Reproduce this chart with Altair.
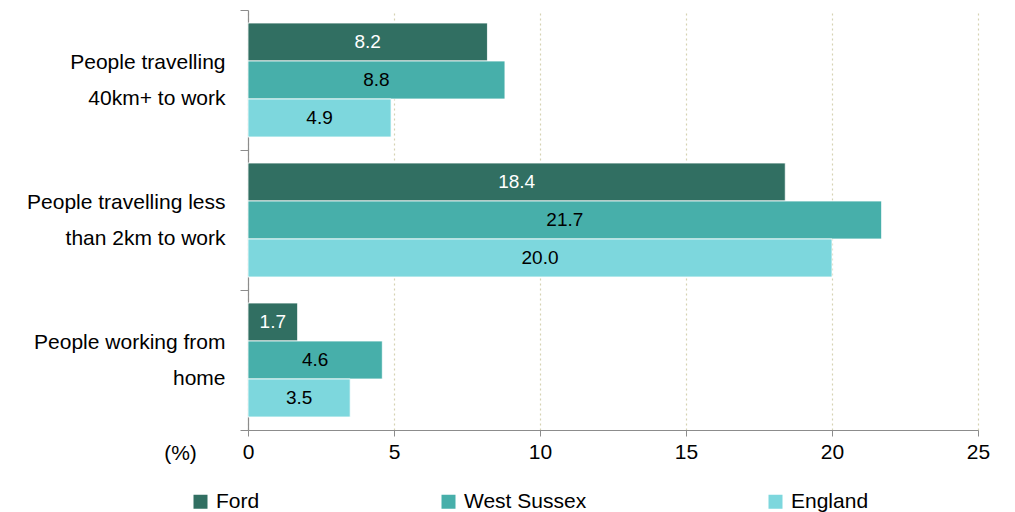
import altair as alt
import pandas as pd

categories = ["People travelling|40km+ to work",
              "People travelling less|than 2km to work",
              "People working from|home"]
series = ["Ford", "West Sussex", "England"]
ford = [8.2, 18.4, 1.7]
west_sussex = [8.8, 21.7, 4.6]
england = [4.9, 20.0, 3.5]
colors = ["#316F62", "#47AFAA", "#7DD7DD"]
x_ticks = [0, 5, 10, 15, 20, 25]

rows = []
for s, vals in zip(series, [ford, west_sussex, england]):
    for c, v in zip(categories, vals):
        rows.append({"cat": c, "series": s, "value": v})
df = pd.DataFrame(rows)

FONT = "Liberation Sans"

y_enc = alt.Y("cat:N", sort=categories,
              scale=alt.Scale(paddingInner=0, paddingOuter=0),
              axis=alt.Axis(title=None, labelExpr="split(datum.label, '|')",
                            labelAlign="right", labelBaseline="middle",
                            labelLineHeight=36, labelPadding=15, labelOffset=-18,
                            labelFontSize=21, labelColor="#000", labelLimit=0,
                            tickBand="extent", tickSize=8, tickColor="#8c8c8c",
                            domainColor="#8c8c8c", domainWidth=1.2, grid=False))
yoff_enc = alt.YOffset("series:N", sort=series,
                       scale=alt.Scale(domain=series, paddingInner=0, paddingOuter=0.342))

bars = alt.Chart(df).mark_bar(stroke="white", strokeWidth=0.8).encode(
    y=y_enc,
    yOffset=yoff_enc,
    x=alt.X("value:Q", scale=alt.Scale(domain=[0, 25], nice=False),
            axis=alt.Axis(values=x_ticks, title="(%)", titleX=-68, titleY=23,
                          titleBaseline="middle", titleAlign="center",
                          titleFontSize=21, titleFontWeight="normal", titleColor="#000",
                          labelFontSize=21, labelColor="#000", labelPadding=5,
                          labelFlush=False,
                          tickSize=6, tickColor="#8c8c8c",
                          domainColor="#8c8c8c", domainWidth=1.2,
                          grid=True, gridDash=[2, 3], gridColor="#D6D2B2", gridWidth=1.2)),
    color=alt.Color("series:N", sort=series,
                    scale=alt.Scale(domain=series, range=colors),
                    legend=alt.Legend(title=None, orient="none", direction="horizontal",
                                      legendX=-58, legendY=481, symbolType="square",
                                      symbolSize=196, symbolStrokeWidth=0,
                                      labelFontSize=21, labelColor="#000",
                                      columnPadding=178, labelOffset=5, padding=0)),
)

labels = alt.Chart(df).transform_calculate(mid="datum.value / 2").mark_text(
    fontSize=19, baseline="middle", align="center"
).encode(
    y=alt.Y("cat:N", sort=categories),
    yOffset=alt.YOffset("series:N", sort=series),
    x=alt.X("mid:Q"),
    text=alt.Text("value:Q", format=".1f"),
    color=alt.condition(alt.datum.series == "Ford", alt.value("#ffffff"), alt.value("#000000")),
)

chart = alt.layer(bars, labels).properties(
    width=730, height=420,
    padding={"left": 240, "top": 2, "right": 29, "bottom": 82},
    autosize=alt.AutoSizeParams(type="none"),
).configure(font=FONT).configure_view(stroke=None)

chart.save("out.html", embed_options={"renderer": "svg", "actions": False})
